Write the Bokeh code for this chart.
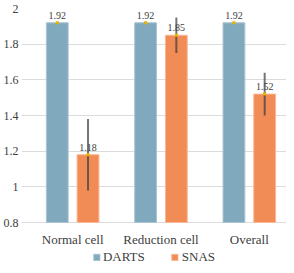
from bokeh.plotting import figure
from bokeh.models import ColumnDataSource, Range1d, FixedTicker, Legend, LegendItem
from bokeh.embed import file_html
from bokeh.resources import INLINE
from bokeh.core.properties import value

categories = ["Normal cell", "Reduction cell", "Overall"]
darts = [1.92, 1.92, 1.92]
darts_err = [0.004, 0.004, 0.004]
snas = [1.18, 1.85, 1.52]
snas_err = [0.20, 0.10, 0.12]
y_ticks = [0.8, 1.0, 1.2, 1.4, 1.6, 1.8, 2.0]
y_labels = ["0.8", "1", "1.2", "1.4", "1.6", "1.8", "2"]
y_base = 0.8

FONT = "'Liberation Serif', 'Times New Roman', serif"
C_DARTS = "#81a9bd"
C_SNAS = "#f28c57"

idx = list(range(len(categories)))
off = 0.174
bw = 0.247

def mk(vals, errs, sign):
    xs = [i + sign * off for i in idx]
    return ColumnDataSource(dict(
        x=xs, top=vals,
        lo=[v - e for v, e in zip(vals, errs)],
        hi=[v + e for v, e in zip(vals, errs)],
        lab=["%.2f" % v for v in vals],
    ))

sd = mk(darts, darts_err, -1)
ss = mk(snas, snas_err, +1)

W, H = 286, 265
top_border = 8
px_per_unit = 214 / 1.2
frame_h = H - top_border
p = figure(width=W, height=H, output_backend="svg", toolbar_location=None,
           x_range=Range1d(-0.579, 2.421),
           y_range=Range1d(2.0 - frame_h / px_per_unit, 2.0),
           min_border_left=19, min_border_right=0, min_border_top=top_border,
           min_border_bottom=0)
p.outline_line_color = None
p.background_fill_color = "white"
p.border_fill_color = "white"

p.xgrid.grid_line_color = None
p.ygrid.grid_line_color = "#dcdcdc"
p.ygrid.grid_line_width = 1
p.ygrid.ticker = FixedTicker(ticks=y_ticks)

p.yaxis.ticker = FixedTicker(ticks=y_ticks)
p.yaxis.major_label_overrides = {t: l for t, l in zip(y_ticks, y_labels)}
p.yaxis.axis_line_color = None
p.yaxis.major_tick_line_color = None
p.yaxis.major_tick_out = 0
p.yaxis.major_tick_in = 0
p.yaxis.minor_tick_line_color = None
p.yaxis.major_label_text_font = FONT
p.yaxis.major_label_text_font_size = "12px"
p.yaxis.major_label_text_color = "#404040"
p.yaxis.major_label_standoff = 3

p.xaxis.fixed_location = y_base
p.xaxis.ticker = FixedTicker(ticks=idx)
p.xaxis.major_label_overrides = {i: c for i, c in zip(idx, categories)}
p.xaxis.axis_line_color = None
p.xaxis.major_tick_line_color = None
p.xaxis.major_tick_out = 0
p.xaxis.major_tick_in = 0
p.xaxis.minor_tick_line_color = None
p.xaxis.major_label_text_font = FONT
p.xaxis.major_label_text_font_size = "13px"
p.xaxis.major_label_text_color = "#404040"
p.xaxis.major_label_standoff = 9

rd = p.vbar(x="x", top="top", bottom=y_base, width=bw, source=sd,
            fill_color=C_DARTS, line_color="#a9c5d3", line_width=1)
rs = p.vbar(x="x", top="top", bottom=y_base, width=bw, source=ss,
            fill_color=C_SNAS, line_color="#f8b894", line_width=1)

for s in (sd, ss):
    p.segment(x0="x", x1="x", y0="lo", y1="hi", source=s,
              line_color="#3a3a3a", line_alpha=0.7, line_width=2)
    p.scatter(x="x", y="top", source=s, marker="square", size=3,
              fill_color="#e8b400", line_color=None)
    p.text(x="x", y="top", text="lab", source=s, text_font=value(FONT),
           text_font_size="10px", text_color="#404040", text_align="center",
           text_baseline="bottom", y_offset=-4)

legend = Legend(items=[LegendItem(label="DARTS", renderers=[rd]),
                       LegendItem(label="SNAS", renderers=[rs])],
                orientation="horizontal", location="bottom_center",
                label_text_font=FONT, label_text_font_size="13px",
                label_text_color="#404040",
                glyph_width=8, glyph_height=8, label_standoff=3, spacing=26,
                label_height=13, padding=1, margin=0,
                border_line_color=None, background_fill_alpha=0)
p.add_layout(legend, "center")

open("out.html", "w").write(file_html(p, INLINE))
